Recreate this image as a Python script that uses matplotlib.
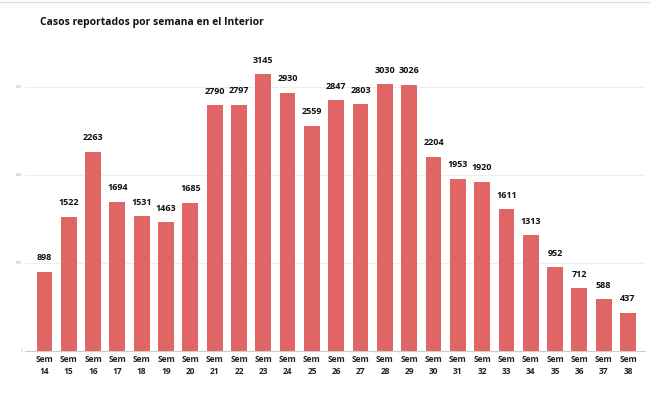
import matplotlib.pyplot as plt

# data
weeks = list(range(14, 39))
casos = [898, 1522, 2263, 1694, 1531, 1463, 1685, 2790, 2797, 3145, 2930, 2559,
         2847, 2803, 3030, 3026, 2204, 1953, 1920, 1611, 1313, 952, 712, 588, 437]
labels = ['Sem\n%d' % w for w in weeks]
yticks = [0, 1000, 2000, 3000]

plt.rcParams['font.family'] = ['Open Sans', 'DejaVu Sans']

W, H = 669, 399
fig = plt.figure(figsize=(W / 100, H / 100), dpi=100)
# axes placed so baseline sits at y=351px and 3000 at y=87px
ax = fig.add_axes([25 / W, (H - 351) / H, 620 / W, 308 / H])

x = range(len(casos))
bars = ax.bar(x, casos, width=0.65, color='#E06666', zorder=2)

for xi, v in zip(x, casos):
    ax.annotate(str(v), (xi, v), xytext=(0, 7), textcoords='offset points',
                ha='center', va='bottom', fontsize=6.5, fontweight='bold',
                color='#111111')

ax.set_xlim(-0.8, 24.7)
ax.set_ylim(0, 3500)
ax.set_xticks(list(x))
ax.set_xticklabels(labels, fontsize=6, fontweight='bold', color='#222222',
                   linespacing=1.35)
ax.set_yticks(yticks)
ax.set_yticklabels([str(t) for t in yticks], fontsize=2, color='#999999')
ax.tick_params(axis='x', length=0, pad=3)
ax.tick_params(axis='y', length=0, pad=2)
ax.grid(axis='y', color='#eeeeee', linewidth=0.8, zorder=0)
for s in ['top', 'right', 'left']:
    ax.spines[s].set_visible(False)
ax.spines['bottom'].set_color('#cccccc')

fig.text(40 / W, 1 - 22 / H, 'Casos reportados por semana en el Interior',
         fontsize=7.5, fontweight='bold', color='#111111', va='center')
fig.add_artist(plt.Line2D([0, 0.97], [1 - 2 / H, 1 - 2 / H], color='#dddddd',
                          linewidth=1))

fig.savefig('out.png', dpi=100, facecolor='white')
